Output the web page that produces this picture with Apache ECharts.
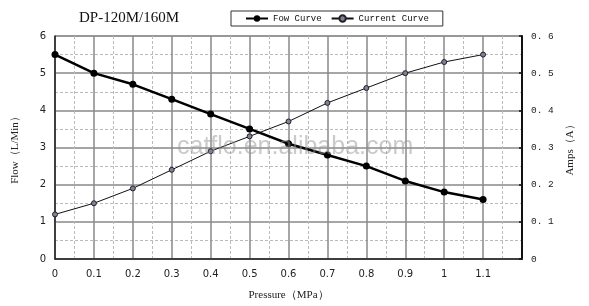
<!DOCTYPE html>
<html><head><meta charset="utf-8">
<script src="https://cdn.jsdelivr.net/npm/echarts@6/dist/echarts.min.js"></script>
<style>html,body{margin:0;padding:0;background:#fff}#c{width:589px;height:306px}</style>
</head><body><div id="c"></div>
<script>
const pressure = [0, 0.1, 0.2, 0.3, 0.4, 0.5, 0.6, 0.7, 0.8, 0.9, 1.0, 1.1];
const flow = [5.5, 5.0, 4.7, 4.3, 3.9, 3.5, 3.1, 2.8, 2.5, 2.1, 1.8, 1.6];
const current = [0.12, 0.15, 0.19, 0.24, 0.29, 0.33, 0.37, 0.42, 0.46, 0.50, 0.53, 0.55];
const xTickLabels = ['0','0.1','0.2','0.3','0.4','0.5','0.6','0.7','0.8','0.9','1','1.1',''];
const rightTickLabels = ['0','0. 1','0. 2','0. 3','0. 4','0. 5','0. 6'];

const chart = echarts.init(document.getElementById('c'));
const serif = '"Liberation Serif", "DejaVu Serif", serif';
const mono = '"Liberation Mono", "DejaVu Sans Mono", monospace';
const sans = '"DejaVu Sans", sans-serif';
chart.setOption({
  animation: false,
  backgroundColor: '#fff',
  title: {
    text: 'DP-120M/160M', left: 74, top: 6,
    textStyle: { fontFamily: serif, fontWeight: 'normal', fontSize: 15, color: '#111' }
  },
  legend: {
    left: 231, top: 11,
    padding: [3, 14, 3, 14], itemGap: 9, itemWidth: 22, itemHeight: 8,
    borderColor: '#333', borderWidth: 1,
    textStyle: { fontFamily: mono, fontSize: 9, color: '#111' },
    data: ['Fow Curve', 'Current Curve']
  },
  grid: { left: 55, right: 67, top: 36, bottom: 45, show: true, borderColor: '#888', borderWidth: 1 },
  xAxis: {
    type: 'value', min: 0, max: 1.2, interval: 0.1,
    name: 'Pressure（MPa）', nameLocation: 'middle', nameGap: 31,
    nameTextStyle: { fontFamily: serif, fontSize: 11, color: '#222' },
    axisLine: { lineStyle: { color: '#222', width: 1.5 } },
    axisTick: { show: false },
    axisLabel: {
      margin: 10, fontFamily: sans, fontSize: 10, color: '#222',
      formatter: (v) => xTickLabels[Math.round(v * 10)]
    },
    splitLine: { show: true, lineStyle: { color: '#888', width: 1.5 } },
    minorTick: { show: false, splitNumber: 2 },
    minorSplitLine: { show: true, lineStyle: { color: '#bbb', type: [3, 2], width: 1 } }
  },
  yAxis: [{
    type: 'value', min: 0, max: 6, interval: 1,
    name: 'Flow（L/Min）', nameLocation: 'middle', nameGap: 34,
    nameTextStyle: { fontFamily: serif, fontSize: 11, color: '#222' },
    axisLine: { show: true, lineStyle: { color: '#222', width: 1.5 } },
    axisTick: { show: false },
    axisLabel: { margin: 9, fontFamily: sans, fontSize: 10, color: '#222' },
    splitLine: { show: true, lineStyle: { color: '#888', width: 1.5 } },
    minorTick: { show: false, splitNumber: 2 },
    minorSplitLine: { show: true, lineStyle: { color: '#bbb', type: [3, 2], width: 1 } }
  }, {
    type: 'value', min: 0, max: 0.6, interval: 0.1, position: 'right',
    name: 'Amps（A）', nameLocation: 'middle', nameGap: 37, nameRotate: 90,
    nameTextStyle: { fontFamily: serif, fontSize: 11, color: '#222' },
    axisLine: { show: true, lineStyle: { color: '#111', width: 2 } },
    axisTick: { show: true, length: 3, inside: true, lineStyle: { color: '#111', width: 1.5 } },
    axisLabel: { margin: 9, fontFamily: mono, fontSize: 9.5, color: '#222',
      formatter: (v) => rightTickLabels[Math.round(v * 10)] },
    splitLine: { show: false }
  }],
  graphic: [{
    type: 'text', left: 177, top: 135, z: 100, silent: true,
    style: { text: 'catflo.en.alibaba.com', fontFamily: '"Liberation Sans", Arial, sans-serif',
      fontSize: 25, fill: 'rgba(150,150,150,0.5)' }
  }],
  series: [{
    name: 'Fow Curve', type: 'line', yAxisIndex: 0,
    data: pressure.map((p, i) => [p, flow[i]]),
    symbol: 'circle', symbolSize: 7,
    lineStyle: { color: '#000', width: 2.5 },
    itemStyle: { color: '#000' }
  }, {
    name: 'Current Curve', type: 'line', yAxisIndex: 1,
    data: pressure.map((p, i) => [p, current[i]]),
    symbol: 'circle', symbolSize: 5,
    lineStyle: { color: '#111', width: 1 },
    itemStyle: { color: '#7c8299', borderColor: '#222', borderWidth: 1 }
  }]
});
</script></body></html>
